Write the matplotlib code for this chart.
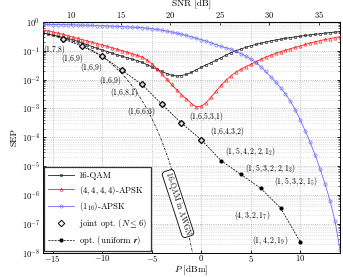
import numpy as np
import matplotlib
matplotlib.use("Agg")
import matplotlib.pyplot as plt
from matplotlib.lines import Line2D

plt.rcParams['font.family'] = 'serif'
plt.rcParams['font.serif'] = ['cmr10']
plt.rcParams['mathtext.fontset'] = 'cm'
plt.rcParams['axes.formatter.use_mathtext'] = True

# launch power grid of the simulated curves [dBm]
P = np.arange(-16, 14.01, 0.5)

# log10(SEP)
qam16 = [-0.39, -0.42, -0.46, -0.50, -0.535, -0.575, -0.615, -0.675, -0.735, -0.80,
         -0.86, -0.92, -0.975, -1.03, -1.085, -1.14, -1.19, -1.24, -1.29, -1.34,
         -1.40, -1.48, -1.56, -1.64, -1.72, -1.79, -1.85, -1.875, -1.86, -1.82,
         -1.75, -1.66, -1.57, -1.49, -1.41, -1.33, -1.24, -1.15, -1.07, -1.00,
         -0.94, -0.88, -0.83, -0.78, -0.74, -0.70, -0.66, -0.63, -0.60, -0.57,
         -0.545, -0.52, -0.495, -0.47, -0.45, -0.43, -0.41, -0.39, -0.37, -0.355, -0.34]
apsk4444 = [-0.28, -0.315, -0.35, -0.39, -0.43, -0.48, -0.53, -0.575, -0.62, -0.665,
            -0.71, -0.755, -0.80, -0.85, -0.90, -0.95, -1.00, -1.05, -1.10, -1.16,
            -1.22, -1.32, -1.45, -1.62, -1.80, -1.99, -2.17, -2.35, -2.52, -2.67,
            -2.83, -2.95, -2.92, -2.80, -2.60, -2.40, -2.20, -2.02, -1.87, -1.74,
            -1.64, -1.55, -1.47, -1.38, -1.30, -1.22, -1.16, -1.09, -1.03, -0.98,
            -0.93, -0.88, -0.83, -0.78, -0.73, -0.69, -0.65, -0.61, -0.58, -0.545, -0.51]
apsk1x16 = [-0.085, -0.088, -0.091, -0.094, -0.097, -0.10, -0.104, -0.108, -0.112, -0.117,
            -0.122, -0.128, -0.134, -0.141, -0.148, -0.156, -0.164, -0.173, -0.182, -0.19,
            -0.20, -0.22, -0.24, -0.26, -0.29, -0.32, -0.35, -0.39, -0.43, -0.47,
            -0.52, -0.57, -0.62, -0.67, -0.73, -0.79, -0.85, -0.90, -0.95, -1.02,
            -1.10, -1.19, -1.29, -1.40, -1.55, -1.72, -1.90, -2.08, -2.28, -2.50,
            -2.75, -3.05, -3.40, -3.78, -4.18, -4.62, -5.10, -5.62, -6.20, -6.90, -7.90]

# 16-QAM in AWGN
P_awgn = [-16, -15, -14, -13, -12, -11, -10, -9, -8, -7.5, -7, -6.5, -6, -5.5, -5,
          -4.5, -4, -3.5, -3, -2.5, -2, -1.5, -1, -0.85]
awgn = [-0.388, -0.464, -0.557, -0.672, -0.814, -0.99, -1.199, -1.474, -1.80, -2.0,
        -2.21, -2.45, -2.72, -3.01, -3.34, -3.71, -4.12, -4.58, -5.10, -5.67,
        -6.30, -7.02, -7.82, -8.07]

# optimized constellations
P_opt = [-14, -12, -10, -8, -6, -4, -2, 0, 2, 4, 6, 8, 10]
opt = [-0.58, -0.85, -1.19, -1.68, -2.17, -2.85, -3.51, -4.09, -4.81, -5.29, -5.77, -6.45, -7.63]
n_joint = 8  # first points with N <= 6
rings = ['(1,7,8)', '(1,6,9)', '(1,6,9)', '(1,6,9)', '(1,6,8,1)',
         '(1,6,6,3)', '(1,6,5,3,1)', '(1,6,4,3,2)',
         r'$(1,5,4,2,2,\mathbf{1}_2)$', r'$(1,5,3,2,2,\mathbf{1}_3)$',
         r'$(1,5,3,2,\mathbf{1}_5)$', r'$(4,3,2,\mathbf{1}_7)$', r'$(1,4,2,\mathbf{1}_9)$']
lbl_P = [-14.85, -13.0, -11.1, -9.2, -7.8, -6.1, 0.45, 2.6, 5.0, 7.0, 9.5, 5.1, 7.0]
lbl_y = [-0.95, -1.27, -1.57, -2.02, -2.46, -3.11, -3.28, -3.79, -4.51, -5.09, -5.54, -6.7, -7.59]

fig = plt.figure(figsize=(3.43, 2.77), dpi=100)
ax = fig.add_axes([0.125, 0.088, 0.866, 0.833])

blue = '#6a6aff'
red = '#ff2020'
ax.plot(P, 10.0**np.array(qam16), '-', color='#222222', lw=0.6, marker='s', ms=2.1,
        mfc='none', mew=0.45, label='16-QAM', zorder=3)
ax.plot(P, 10.0**np.array(apsk4444), '-', color=red, lw=0.6, marker='^', ms=2.3,
        mfc='none', mew=0.45, label=r'$(4,4,4,4)$-APSK', zorder=3)
ax.plot(P, 10.0**np.array(apsk1x16), '-', color=blue, lw=0.6, marker='o', ms=2.3,
        mfc='none', mew=0.45, label=r'$(\mathbf{1}_{16})$-APSK', zorder=3)
ax.plot(P_awgn, 10.0**np.array(awgn), color='black', lw=0.55, dashes=(3, 1.5, 0.8, 1.5), zorder=3)
ax.plot(P_opt[:n_joint], 10.0**np.array(opt[:n_joint]), 'D', color='black', ms=3.1,
        mfc='#dddddd', mew=0.9, zorder=5)
ax.plot(P_opt, 10.0**np.array(opt), color='black', lw=0.55, dashes=(2.5, 1.5),
        marker='o', ms=2.0, zorder=4)

for i in range(len(rings)):
    ax.text(lbl_P[i], 10.0**lbl_y[i], rings[i], fontsize=5.5, ha='center', va='center',
            zorder=6)

ax.text(-2.35, 10.0**-6.3, '16-QAM in AWGN', rotation=-72, fontsize=5.5, ha='center',
        va='center', zorder=6,
        bbox=dict(boxstyle='round,pad=0.25,rounding_size=0.4', fc='white', ec='black', lw=0.6))

ax.set_yscale('log')
ax.set_xlim(-16, 14)
ax.set_ylim(1e-8, 1)
ax.set_xticks([-15, -10, -5, 0, 5, 10])
ax.set_yticks([10.0**k for k in range(-8, 1)])
ax.grid(True, which='major', ls=':', color='#aaaaaa', lw=0.6)
ax.grid(True, which='minor', axis='y', ls=':', color='#cccccc', lw=0.5)
ax.tick_params(which='both', direction='in', labelsize=6.2, top=False, right=True)
ax.tick_params(which='major', length=2.5, width=0.6)
ax.tick_params(which='minor', length=1.3, width=0.4)
ax.tick_params(axis='x', pad=0.6)
ax.tick_params(axis='y', pad=2)
for s in ax.spines.values():
    s.set_linewidth(0.7)

ax.set_xlabel(r'$P$ [dBm]', fontsize=6.6, labelpad=-0.8)
ax.set_ylabel('SEP', fontsize=6.8, labelpad=2)

top = ax.secondary_xaxis('top', functions=(lambda p: p + 23.15, lambda s: s - 23.15))
top.set_xticks([10, 15, 20, 25, 30, 35])
top.tick_params(direction='in', labelsize=6.2, length=2.5, width=0.6, pad=1.5)
top.set_xlabel('SNR [dB]', fontsize=6.8, labelpad=1.5)

handles, labels = ax.get_legend_handles_labels()
handles += [Line2D([], [], ls='none', marker='D', color='black', ms=3.3, mfc='white', mew=0.7),
            Line2D([], [], color='black', lw=0.55, dashes=(2.5, 1.5), marker='o', ms=2.0)]
labels += [r'joint opt. $(N\leq 6)$', r'opt. (uniform $\boldsymbol{r}$)']
leg = ax.legend(handles, labels, loc='lower left', fontsize=6.3, frameon=True, fancybox=False,
                borderaxespad=0.15, handlelength=2.9, handletextpad=0.6, labelspacing=0.45,
                borderpad=0.45)
leg.get_frame().set_edgecolor('#333333')
leg.get_frame().set_linewidth(0.9)
leg.get_frame().set_alpha(1)
leg.set_zorder(7)

fig.savefig('out.png', dpi=100)
